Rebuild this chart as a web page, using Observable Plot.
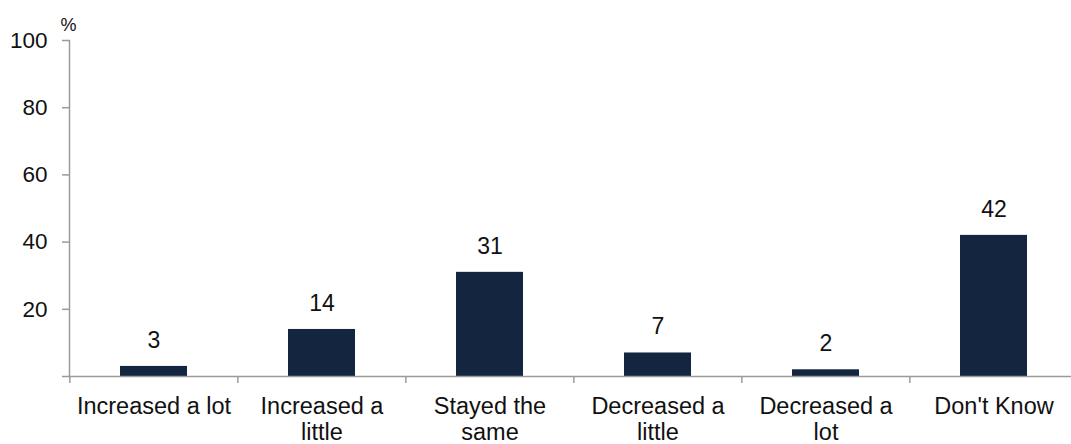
<!DOCTYPE html>
<html>
<head>
<meta charset="utf-8">
<script src="https://cdn.jsdelivr.net/npm/d3@7"></script>
<script src="https://cdn.jsdelivr.net/npm/@observablehq/plot@0.6"></script>
<style>
  body { margin: 0; background: #fff; }
  svg { display: block; }
</style>
</head>
<body>
<div id="chart"></div>
<script>
// Survey answers and the share (%) giving each one
const categories = ["Increased a lot", "Increased a little", "Stayed the same", "Decreased a little", "Decreased a lot", "Don't Know"];
const values = [3, 14, 31, 7, 2, 42];
// Category labels as drawn under the axis (two lines where they wrap)
const tickLabels = ["Increased a lot", "Increased a\nlittle", "Stayed the\nsame", "Decreased a\nlittle", "Decreased a\nlot", "Don't Know"];
const yTicks = [0, 20, 40, 60, 80, 100];

const data = categories.map((category, i) => ({category, value: values[i]}));

const width = 1071;
const height = 444;
const xRange = [69, 1079];
const step = (xRange[1] - xRange[0]) / categories.length;
const axisColor = "#9b9b9b";
const barColor = "#14253f";
const textColor = "#111";

const chart = Plot.plot({
  width,
  height,
  marginLeft: 69,
  marginRight: 0,
  marginTop: 40,
  marginBottom: 68,
  style: {
    fontFamily: "'Liberation Sans', Arial, Helvetica, sans-serif",
    fontSize: "22px",
    color: textColor,
    background: "#fff"
  },
  x: {type: "band", domain: categories, range: xRange, paddingInner: 0.6, paddingOuter: 0.3},
  y: {domain: [0, 100], range: [376, 40]},
  marks: [
    Plot.barY(data, {x: "category", y: "value", fill: barColor}),
    Plot.text(data, {x: "category", y: "value", text: d => String(d.value), dy: -26, fontSize: 23, fill: textColor}),
    Plot.frame({anchor: "left", stroke: axisColor, strokeWidth: 1.5}),
    Plot.frame({anchor: "bottom", stroke: axisColor, strokeWidth: 1.5}),
    Plot.axisY({
      ticks: yTicks,
      tickSize: 7,
      tickPadding: 15,
      tickFormat: d => d === 0 ? "" : String(d),
      stroke: axisColor,
      strokeWidth: 1.5,
      fontSize: 22.5,
      label: null
    }),
    // boundary ticks between categories
    Plot.axisX({
      ticks: categories,
      tickSize: 7,
      tickFormat: () => "",
      stroke: axisColor,
      strokeWidth: 1.5,
      dx: -step / 2,
      label: null
    }),
    // category labels
    Plot.axisX({
      ticks: categories,
      tickSize: 0,
      tickPadding: 19.5,
      tickFormat: d => tickLabels[categories.indexOf(d)],
      fontSize: 23.5,
      lineHeight: 1.09,
      label: null
    }),
    Plot.text(["%"], {frameAnchor: "top-left", text: d => d, dx: -9, dy: -22, fontSize: 18, fill: textColor})
  ]
});

document.getElementById("chart").appendChild(chart);
</script>
</body>
</html>
